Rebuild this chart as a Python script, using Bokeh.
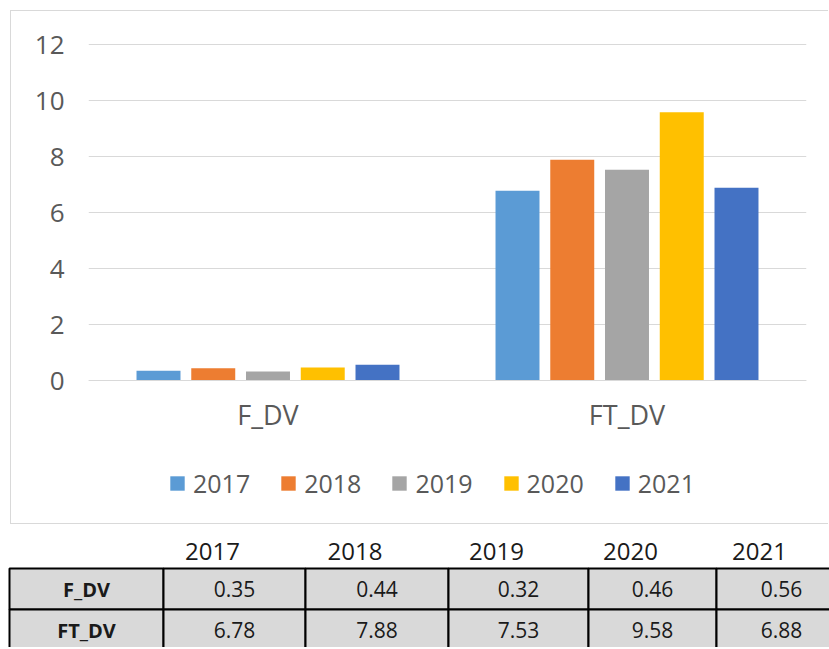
from bokeh.plotting import figure
from bokeh.models import (FactorRange, Range1d, FixedTicker, Legend, LegendItem,
                          ColumnDataSource)
from bokeh.transform import dodge
from bokeh.embed import file_html
from bokeh.resources import INLINE
from bokeh.core.properties import value

# ---- data ----
categories = ["F_DV", "FT_DV"]
years = ["2017", "2018", "2019", "2020", "2021"]
f_dv = [0.35, 0.44, 0.32, 0.46, 0.56]
ft_dv = [6.78, 7.88, 7.53, 9.58, 6.88]
y_ticks = [0, 2, 4, 6, 8, 10, 12]
colors = ["#5B9BD5", "#ED7D31", "#A5A5A5", "#FFC000", "#4472C4"]

FONT = "Open Sans"
PX_PER_UNIT = 28

# ---- chart ----
p = figure(x_range=FactorRange(factors=categories, range_padding=0),
           y_range=Range1d(-140 / PX_PER_UNIT, 338 / PX_PER_UNIT),
           width=818, height=514, output_backend="svg", toolbar_location=None,
           min_border_left=77, min_border_right=23, min_border_top=31,
           min_border_bottom=5)
p.styles = {"margin-left": "10px", "margin-top": "10px",
            "border-left": "1px solid #d9d9d9", "border-top": "1px solid #d9d9d9",
            "border-bottom": "1px solid #d9d9d9"}
p.outline_line_color = None
p.background_fill_color = "white"
p.border_fill_color = "white"

src = ColumnDataSource(dict(cat=categories,
                            **{y: [f_dv[i], ft_dv[i]] for i, y in enumerate(years)}))
step = 0.1525
bw = 0.1225
items = []
for i, y in enumerate(years):
    r = p.vbar(x=dodge("cat", (i - 2) * step, range=p.x_range), top=y, width=bw,
               source=src, fill_color=colors[i], line_color=None)
    items.append(LegendItem(label=y, renderers=[r]))

p.xgrid.grid_line_color = None
p.ygrid.ticker = FixedTicker(ticks=y_ticks)
p.ygrid.grid_line_color = "#d9d9d9"
p.ygrid.grid_line_width = 1
p.yaxis.ticker = FixedTicker(ticks=y_ticks)
p.yaxis.axis_line_color = None
p.yaxis.major_tick_line_color = None
p.yaxis.minor_tick_line_color = None
p.yaxis.major_label_standoff = 18
p.yaxis.major_label_text_font = FONT
p.yaxis.major_label_text_font_size = "26px"
p.yaxis.major_label_text_color = "#595959"

p.xaxis.fixed_location = 0
p.xaxis.axis_line_color = "#d9d9d9"
p.xaxis.axis_line_width = 1
p.xaxis.major_tick_line_color = None
p.xaxis.minor_tick_line_color = None
p.xaxis.major_label_standoff = 9
p.xaxis.major_label_text_font = FONT
p.xaxis.major_label_text_font_size = "27px"
p.xaxis.major_label_text_color = "#595959"

legend = Legend(items=items, orientation="horizontal", location=(80, 20),
                glyph_width=18, glyph_height=18, label_standoff=7, spacing=29,
                label_text_font=FONT, label_text_font_size="25px",
                label_text_color="#595959", border_line_color=None,
                background_fill_alpha=0, padding=0, margin=0)
p.add_layout(legend)

# ---- table ----
W_T, H_T = 829, 123
t = figure(x_range=Range1d(0, W_T), y_range=Range1d(H_T, 0),
           width=W_T, height=H_T, output_backend="svg", toolbar_location=None,
           min_border=0)
t.axis.visible = False
t.grid.visible = False
t.outline_line_color = None

col_edges = [9, 163, 305, 448, 588, 716, 850]
row_edges = [44, 85, 126]
header_y = 27

lefts, rights, tops, bottoms = [], [], [], []
for r in range(2):
    for c in range(6):
        lefts.append(col_edges[c]); rights.append(col_edges[c + 1])
        tops.append(row_edges[r]); bottoms.append(row_edges[r + 1])
t.quad(left=lefts, right=rights, top=tops, bottom=bottoms,
       fill_color="#d9d9d9", line_color="black", line_width=2)

centers = [(col_edges[c] + col_edges[c + 1]) / 2 for c in range(6)]
centers[5] = 781
t.text(x=[centers[c + 1] - 22 for c in range(5)], y=[header_y] * 5, text=years,
       text_font=value(FONT), text_font_size="24px", text_color="#1a1a1a",
       text_align="center", text_baseline="middle")
row_y = [(row_edges[0] + row_edges[1]) / 2, (row_edges[1] + row_edges[2]) / 2]
t.text(x=[centers[0]] * 2, y=row_y, text=categories,
       text_font=value(FONT), text_font_size="20px", text_font_style="bold",
       text_color="#1a1a1a", text_align="center", text_baseline="middle")
for r, vals in enumerate([f_dv, ft_dv]):
    t.text(x=centers[1:], y=[row_y[r]] * 5, text=[f"{v:.2f}" for v in vals],
           text_font=value(FONT), text_font_size="21px", text_color="#1a1a1a",
           text_align="center", text_baseline="middle")

open("out.html", "w").write(file_html([p, t], INLINE))
